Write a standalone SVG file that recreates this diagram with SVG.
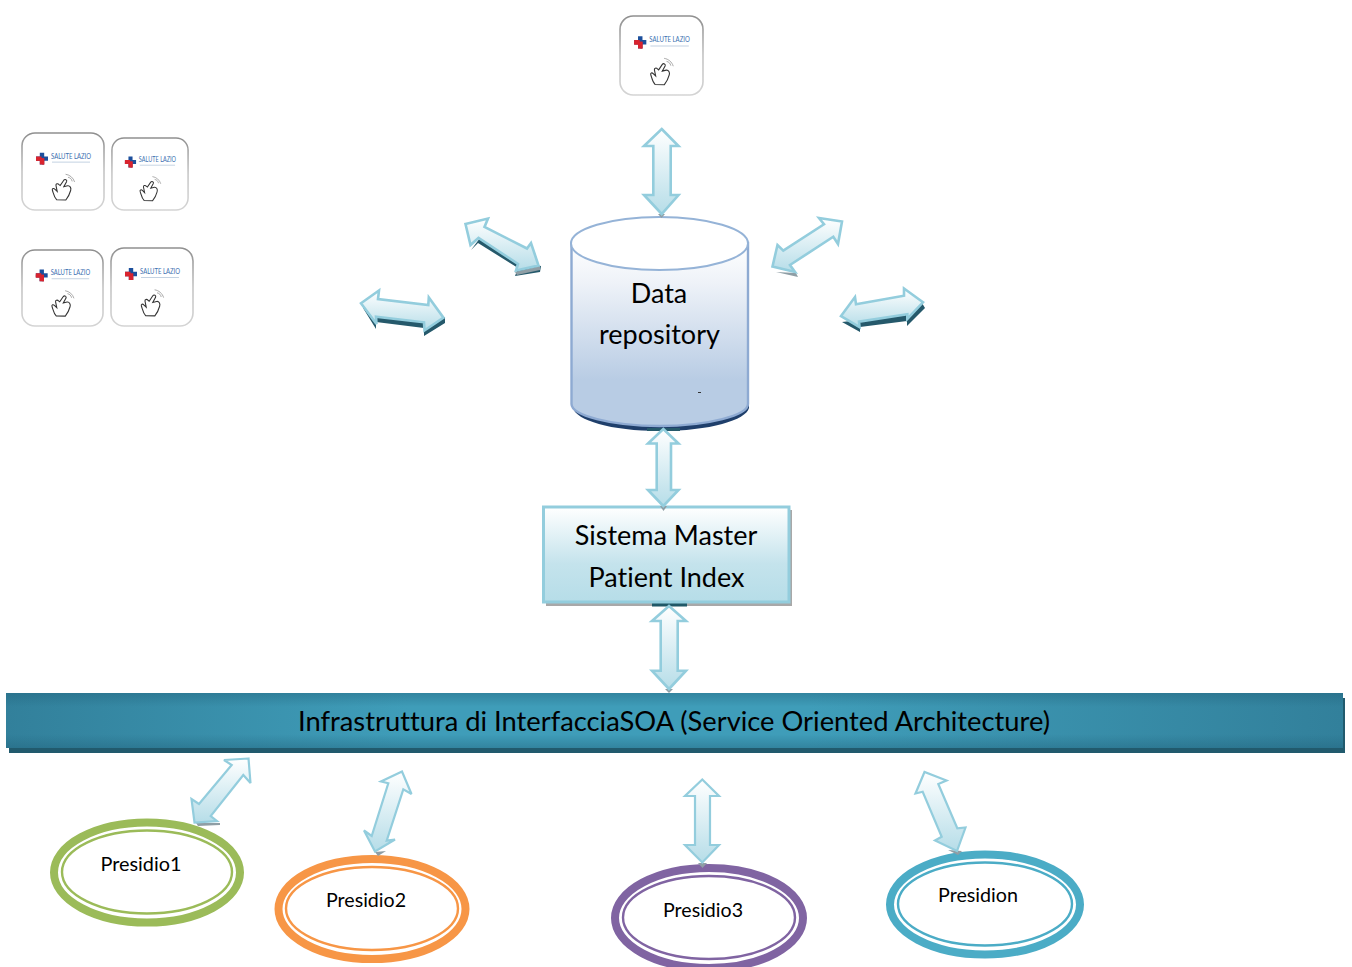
<svg xmlns="http://www.w3.org/2000/svg" width="1352" height="967" viewBox="0 0 1352 967">
<style>
text{font-family:"Lato","Noto Sans","Liberation Sans",sans-serif;fill:#000;text-anchor:middle;font-variant-ligatures:none}
.big{font-size:27px}
.small{font-size:20px}
.arrow{fill:url(#arrowFill);stroke:#93cddd;stroke-width:2.600;stroke-linejoin:miter;stroke-miterlimit:3}
.thin{stroke-width:2.200}
.shadow{fill:#25596b;stroke:none}
.wedge{fill:#8f9ea5;stroke:none}
.outer{fill:#fff;stroke-width:8}
.inner{fill:none;stroke-width:2.400}
</style>
<defs>
<linearGradient id="arrowFill" x1="0" y1="0" x2="0" y2="1"><stop offset="0" stop-color="#fff"/><stop offset="1" stop-color="#b6dde8"/></linearGradient>
<linearGradient id="cyl" x1="0" y1="0" x2="0" y2="1"><stop offset="0" stop-color="#fff"/><stop offset="0.22" stop-color="#eef2f8"/><stop offset="0.75" stop-color="#b8cce4"/><stop offset="1" stop-color="#b8cce4"/></linearGradient>
<linearGradient id="box" x1="0" y1="0" x2="0" y2="1"><stop offset="0" stop-color="#fff"/><stop offset="0.6" stop-color="#c4e3ec"/><stop offset="1" stop-color="#b6dde8"/></linearGradient>
<linearGradient id="bandH" x1="0" y1="0" x2="1" y2="0"><stop offset="0" stop-color="#32809b"/><stop offset="0.3" stop-color="#3f9db9"/><stop offset="0.6" stop-color="#3f9db9"/><stop offset="1" stop-color="#32809b"/></linearGradient>
<linearGradient id="bandV" x1="0" y1="0" x2="0" y2="1"><stop offset="0" stop-color="#1f5f78" stop-opacity=".4"/><stop offset="0.25" stop-color="#1f5f78" stop-opacity="0"/><stop offset="0.75" stop-color="#1f5f78" stop-opacity="0"/><stop offset="1" stop-color="#1f5f78" stop-opacity=".4"/></linearGradient>
<linearGradient id="cardStroke" x1="0" y1="0" x2="0" y2="1"><stop offset="0" stop-color="#8f8f8f"/><stop offset=".5" stop-color="#c4c4c4"/><stop offset="1" stop-color="#d4d4d4"/></linearGradient>
<symbol id="card" viewBox="0 0 84 80" preserveAspectRatio="none">
<rect x="1" y="1" width="82" height="78" rx="13" fill="#fff" stroke="url(#cardStroke)" stroke-width="1.600"/>
<path d="M18.800 21h4.400v3.800h3.800v4.400h-3.800v3.800h-4.400v-3.800h-3.800v-4.400h3.800z" fill="#1c4f9c"/>
<path d="M15 26.500h6v-.0v6.500h2.200v-3.800h0v-2.700h-2.200v2.700h-6z" fill="#d9232e"/>
<path d="M15 26.500h5.500v-1.700h-1.700v0h-3.800zM18.800 29.200h4.400v3.800h-4.400zM15 26.500h8.200v2.700h-8.200z" fill="#d9232e"/>
<text x="50" y="27" font-size="7.500" textLength="40" lengthAdjust="spacingAndGlyphs" style="fill:#3b6fb0">SALUTE LAZIO</text>
<path d="M31 30.500h38" stroke="#c4d2e2" stroke-width="1"/>
<g transform="translate(41 59) scale(1.200) translate(-41 -59)">
<path d="M36.500 67c-2-2-2.500-5-3.500-8c-.5-1.500 1-2 2-1l2 2l-1-5c-.3-1.500 1.500-2 2.500-.8l1 .8l3-4.500c1-1.300 3-.2 2.300 1.300l-2.300 4.200l3.200-.8c2-.3 3.200 2 2.500 4c-.8 3-2 5.500-4 8z" fill="#fff" stroke="#333" stroke-width=".9"/>
<path d="M46 48c2 .5 3 1.500 3.500 3.500M44 45.500c3.500 .5 6.500 3 7.500 6.500" fill="none" stroke="#999" stroke-width=".7"/>
</g>
</symbol>
</defs>
<rect width="1352" height="967" fill="#fff"/>

<g id="card-top"><use href="#card" x="619" y="15" width="85" height="81"/></g>
<g id="card-1"><use href="#card" x="21" y="132" width="84" height="79"/></g>
<g id="card-2"><use href="#card" x="111" y="137" width="78" height="74"/></g>
<g id="card-3"><use href="#card" x="21" y="249" width="83" height="78"/></g>
<g id="card-4"><use href="#card" x="110" y="247" width="84" height="80"/></g>

<g id="data-repository">
<path d="M573 400V408C576 420 610 431 660 431S746 420 749 408V250z" fill="#1f3f6b"/>
<path d="M571.500 243V404C571.500 415 610 426 659.500 426S748 415 748 404V243z" fill="url(#cyl)" stroke="#8eaad2" stroke-width="2.400"/>
<ellipse cx="659.500" cy="243.500" rx="88.500" ry="26.500" fill="#fff" stroke="#95b3d7" stroke-width="2"/>
<text class="big" x="659" y="303">Data</text>
<text class="big" x="659.500" y="344">repository</text>
<path d="M698 392.500h3" stroke="#333" stroke-width="1"/>
</g>

<g id="master-patient-index">
<rect x="546" y="510" width="246" height="96" fill="#a8a8a8"/>
<rect x="652" y="603" width="35" height="3.500" fill="#205867"/>
<rect x="543.500" y="507" width="245.500" height="95" fill="url(#box)" stroke="#93cddd" stroke-width="3"/>
<text class="big" x="666" y="545">Sistema Master</text>
<text class="big" x="666.500" y="587">Patient Index</text>
</g>

<g id="soa-band">
<rect x="9" y="698" width="1336" height="55" fill="#215a6d"/>
<rect x="6" y="693" width="1337" height="55" fill="url(#bandH)"/>
<rect x="6" y="693" width="1337" height="55" fill="url(#bandV)"/>
<text class="big" x="674" y="731" textLength="752" lengthAdjust="spacingAndGlyphs">Infrastruttura di InterfacciaSOA (Service Oriented Architecture)</text>
</g>

<g id="presidio-1">
<ellipse class="outer" cx="147" cy="872.500" rx="93" ry="50" stroke="#9bbb59"/>
<ellipse class="inner" cx="147" cy="872" rx="85" ry="41.500" stroke="#9bbb59"/>
<text class="small" x="141" y="871" textLength="81" lengthAdjust="spacingAndGlyphs">Presidio1</text>
</g>
<g id="presidio-2">
<ellipse class="outer" cx="372" cy="909" rx="93.500" ry="50" stroke="#f79646"/>
<ellipse class="inner" cx="372" cy="908.500" rx="86" ry="41.500" stroke="#f79646"/>
<text class="small" x="366" y="907" textLength="80" lengthAdjust="spacingAndGlyphs">Presidio2</text>
</g>
<g id="presidio-3">
<ellipse class="outer" cx="709" cy="918" rx="94" ry="50" stroke="#8064a2"/>
<ellipse class="inner" cx="709" cy="917.500" rx="86" ry="41.500" stroke="#8064a2"/>
<text class="small" x="703" y="917" textLength="80" lengthAdjust="spacingAndGlyphs">Presidio3</text>
</g>
<g id="presidio-n">
<ellipse class="outer" cx="985" cy="904.500" rx="95" ry="50" stroke="#4bacc6"/>
<ellipse class="inner" cx="985" cy="904" rx="87" ry="41.500" stroke="#4bacc6"/>
<text class="small" x="978" y="902" textLength="80" lengthAdjust="spacingAndGlyphs">Presidion</text>
</g>

<g id="connectors">
<polygon class="shadow" points="471,250 478,243 518,268 515,276 540,272 541,266 519,262 480,238"/>
<polygon class="wedge" points="515,272 540,266 540,270 517,275"/>
<polygon class="arrow" points="465.500,224 488,218.500 484.500,227 527,248.500 531,243 538.500,265.500 516,270.500 518,264 478.500,238 470.500,245"/>

<polygon class="shadow" points="363,308 376,329 376,322 424,328 424,336 445,323 445,317 424,318 378,312"/>
<polygon class="arrow" points="361,303.300 379,290.500 378,299 428.300,305 428.800,297.500 443.500,317.700 424.500,330.500 424,322.300 376,316.700 376.500,324"/>

<polygon class="wedge" points="776,272 796,273 798,277"/>
<polygon class="arrow" points="842,221.500 819,218 824,224.300 783.300,250.700 777.500,245 772.500,266.500 795,272 790,265 833.300,236.700 838,244"/>

<polygon class="shadow" points="842,322 860,332 860,327 907,321 907,326 925,308 922,303 907,314 859,320"/>
<polygon class="arrow" points="923,302.300 904,288.500 904,295.700 856,304.300 855,297 841,316 859.500,327 859,321.700 907.300,314.300 907.300,319"/>

<polygon class="wedge" points="658,214 665,214 661.500,218"/>
<polygon class="arrow" points="661.700,129 678.500,146 670.700,146 670.700,195 678.500,195 661.700,214 644,195 653.300,195 653.300,146 644,146"/>

<polygon class="shadow" points="647,428 680,428 680,431 647,431"/>
<polygon class="wedge" points="660,506 667,506 663.500,511"/>
<polygon class="arrow" points="663.300,429 678.500,443.500 671,443.500 671,490 678.500,490 663.300,506 648,490 656.700,490 656.700,443.500 648,443.500"/>

<polygon class="wedge" points="665,689 673,689 669,693"/>
<polygon class="arrow" points="669,606 686,621 677.700,621 677.700,670.700 686,670.700 669,689 652,670.700 660.700,670.700 660.700,621 652,621"/>

<polygon class="wedge" points="196,823 220,823 220,825 198,826"/>
<polygon class="arrow thin" points="248.500,758.500 224,760 231.700,765 199,804 191.500,799 194.500,822.500 217,821 210.700,816 243.300,775 250.500,783"/>

<polygon class="wedge" points="375,852 386,851 378,856"/>
<polygon class="arrow thin" points="402,771.500 381,781.500 388.300,783.300 371.700,836 364,830.500 375,851.500 395,839.500 386.700,840.700 403.300,789.300 411.500,794"/>

<polygon class="wedge" points="698,863 707,863 702.500,868"/>
<polygon class="arrow thin" points="702.300,779.500 719,796 710,796 710,845 719,845 702.300,862.500 685,845 695,845 695,796 685,796"/>

<polygon class="wedge" points="948,850 962,851 958,855"/>
<polygon class="arrow thin" points="924.500,772 915.500,793.500 922.700,791.700 941.700,836.700 935,840.500 957,851 965.500,827.500 957.300,828.300 938.300,784 946.500,780.500"/>
</g>
</svg>
